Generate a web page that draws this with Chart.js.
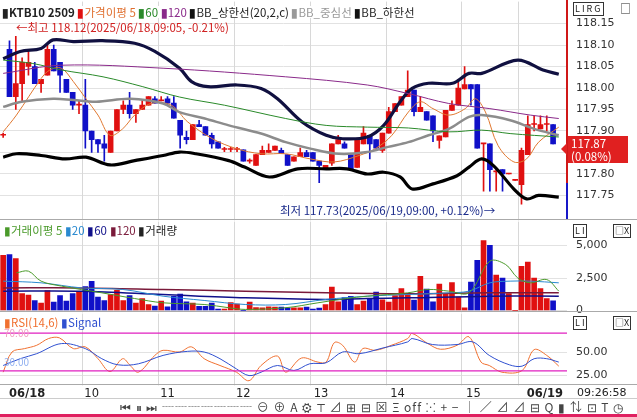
<!DOCTYPE html>
<html><head><meta charset="utf-8">
<script src="https://cdn.jsdelivr.net/npm/chart.js@4.4.0/dist/chart.umd.min.js"></script>
<style>
body{margin:0;width:637px;height:417px;background:#fff;position:relative;overflow:hidden;font-family:"Noto Sans CJK KR","Noto Sans",sans-serif;font-size:11px;color:#222}
canvas{position:absolute;left:0}
.t{position:absolute;white-space:nowrap;line-height:12px}
</style></head><body>
<canvas id="price" style="top:-14px" width="637" height="250"></canvas>
<canvas id="vol" style="top:206px" width="637" height="122"></canvas>
<canvas id="rsi" style="top:298px" width="637" height="103"></canvas>
<div id="overlay"></div>
<script>
// 30분봉 시가/고가/저가/종가
const opens  = [117.89,118.09,117.98,118.01,118.05,118.05,118.01,118.03,118.09,118.06,118.02,117.99,117.96,117.96,117.90,117.88,117.87,117.85,117.90,117.95,117.96,117.94,117.95,117.96,117.975,117.97,117.975,117.965,117.925,117.885,117.88,117.915,117.91,117.89,117.875,117.857,117.857,117.857,117.856,117.83,117.82,117.845,117.85,117.855,117.855,117.845,117.83,117.84,117.85,117.85,117.83,117.81,117.825,117.87,117.87,117.845,117.815,117.87,117.89,117.88,117.855,117.895,117.945,117.96,117.98,117.995,117.945,117.945,117.935,117.878,117.886,117.948,117.96,117.998,118.008,118.008,117.87,117.87,117.805,117.81,117.80,117.785,117.775,117.845,117.915,117.905,117.915,117.915];
const highs  = [117.895,118.11,118.12,118.07,118.09,118.06,118.02,118.10,118.10,118.06,118.02,117.99,117.97,118.02,117.90,117.88,117.89,117.90,117.95,117.97,117.99,117.95,117.97,117.98,117.98,117.98,117.98,117.98,117.925,117.90,117.915,117.925,117.91,117.895,117.875,117.862,117.862,117.862,117.856,117.835,117.845,117.865,117.87,117.865,117.86,117.845,117.84,117.86,117.855,117.85,117.83,117.82,117.87,117.89,117.875,117.845,117.88,117.91,117.89,117.88,117.895,117.955,117.964,117.98,118.04,117.995,117.98,117.945,117.935,117.889,117.948,117.97,118.02,118.05,118.008,118.008,117.87,117.87,117.815,117.81,117.80,117.785,117.86,117.935,117.935,117.935,117.935,117.915];
const lows   = [117.885,117.98,117.95,117.97,118.03,118.01,117.99,118.03,118.04,117.99,117.99,117.95,117.94,117.86,117.85,117.85,117.83,117.85,117.90,117.94,117.93,117.92,117.95,117.96,117.965,117.97,117.96,117.93,117.86,117.87,117.88,117.91,117.89,117.86,117.86,117.852,117.852,117.852,117.83,117.825,117.82,117.845,117.85,117.855,117.848,117.82,117.83,117.84,117.84,117.83,117.78,117.81,117.82,117.87,117.86,117.81,117.815,117.87,117.835,117.86,117.85,117.895,117.945,117.96,117.98,117.935,117.945,117.925,117.875,117.86,117.886,117.948,117.96,117.998,117.96,117.86,117.76,117.76,117.76,117.76,117.80,117.785,117.73,117.845,117.90,117.905,117.90,117.87];
const closes = [117.89,117.98,118.01,118.06,118.06,118.01,118.02,118.09,118.04,118.03,117.99,117.96,117.96,117.90,117.88,117.87,117.86,117.90,117.95,117.96,117.94,117.95,117.96,117.98,117.965,117.97,117.965,117.93,117.89,117.88,117.915,117.91,117.89,117.87,117.86,117.857,117.857,117.857,117.83,117.83,117.845,117.855,117.855,117.865,117.848,117.82,117.84,117.85,117.84,117.83,117.82,117.82,117.87,117.88,117.86,117.81,117.88,117.895,117.87,117.86,117.895,117.945,117.964,117.98,117.995,117.945,117.955,117.925,117.90,117.889,117.948,117.96,118.00,118.008,117.998,117.86,117.87,117.81,117.805,117.80,117.80,117.785,117.855,117.915,117.915,117.915,117.915,117.87];
const volumes = [4256,4300,4000,1300,1180,770,560,1540,640,1150,720,1300,1410,1850,2250,1030,770,1230,1560,770,1150,560,920,460,330,720,280,1080,1260,670,560,310,310,560,100,100,600,500,0,640,230,200,280,260,260,200,200,200,260,100,180,460,1800,670,1000,1080,460,720,920,1410,820,640,1150,1690,1230,800,2640,1640,670,2030,1280,2150,1030,200,2180,3870,5380,5030,2720,2490,1310,0,3410,3720,2490,1690,920,740];

// 보조지표 (봉 번호, 값)
const bbUpper = [[0,118.068],[2.7,118.085],[6,118.092],[7.9,118.112],[11.1,118.108],[15.7,118.11],[20.8,118.104],[24,118.085],[27.9,118.046],[29.8,118.015],[32.4,118.003],[37,118.007],[40.8,117.999],[43.4,117.975],[47.3,117.921],[51.1,117.89],[53.7,117.882],[57.6,117.886],[60.2,117.913],[62.8,117.968],[64.7,117.999],[67.3,118.011],[71.1,118.011],[73.7,118.034],[75.7,118.034],[81.4,118.065],[85.4,118.042],[87.9,118.032]];
const bbMid = [[0,117.956],[2.9,117.968],[7.9,117.975],[11.1,117.972],[14.7,117.968],[20.1,117.975],[25.3,117.964],[27.9,117.944],[31.9,117.929],[35.7,117.913],[40.8,117.894],[44.7,117.874],[48.6,117.859],[53.1,117.847],[57.6,117.851],[60.9,117.863],[64.1,117.874],[67.3,117.89],[70.5,117.905],[73.7,117.933],[75.7,117.937],[80.2,117.925],[84,117.905],[87.9,117.89]];
const bbLower = [[0,117.839],[2.1,117.847],[6,117.843],[9.8,117.835],[13.1,117.839],[16.9,117.821],[20.8,117.831],[25.3,117.843],[27.9,117.851],[30.5,117.847],[35.7,117.831],[38.2,117.816],[42.1,117.793],[46.6,117.812],[51.1,117.812],[54.4,117.812],[57.6,117.8],[60.2,117.804],[62.8,117.793],[64.7,117.765],[68,117.777],[71.8,117.796],[73.7,117.816],[75.7,117.835],[77.6,117.819],[80.8,117.765],[82.8,117.742],[84.7,117.75],[87.9,117.746]];
const ma5 = [[0,117.898],[2.1,117.937],[6,118.022],[7.4,118.042],[9.2,118.046],[11.1,118.015],[13.1,117.975],[15,117.937],[16.9,117.89],[18.9,117.905],[20.8,117.937],[23.4,117.964],[26.6,117.96],[29.2,117.921],[33.1,117.882],[36.9,117.859],[40.8,117.847],[44.7,117.847],[48.6,117.835],[52.4,117.828],[56.3,117.843],[58.9,117.859],[61.5,117.89],[64.1,117.944],[66,117.968],[68,117.952],[70.5,117.937],[73.1,117.952],[74.7,117.975],[76.3,117.944],[78.3,117.866],[80.8,117.828],[82.8,117.835],[84.7,117.874],[87.9,117.909]];
const ma60 = [[0,118.065],[4.7,118.057],[9.2,118.042],[15.8,118.026],[22.1,118.003],[27.9,117.979],[35,117.96],[44.7,117.929],[51.1,117.913],[57.6,117.909],[64.1,117.907],[70.5,117.898],[75.7,117.902],[80.2,117.894],[87.9,117.886]];
const ma120 = [[0,118.034],[9.2,118.053],[25.3,118.046],[44.7,118.026],[57.6,118.007],[64.1,117.987],[70.5,117.964],[77,117.952],[83.4,117.937],[87.9,117.929]];

const volMa5 = [[2.1,2900],[4,3030],[6,2260],[9.2,1880],[15.6,1360],[20.8,920],[25.3,590],[31.8,460],[35.7,210],[38.3,80],[44.7,210],[49.8,590],[54.3,920],[57.6,1100],[64,1360],[67.3,1620],[70.5,1490],[73.7,1360],[77,3800],[79.5,3540],[81.4,2510],[83.4,2130],[86,2380],[87.9,1490]];
const volMa20 = [[0,2260],[6,2130],[12.4,1740],[18.9,1620],[25.3,1100],[31.8,770],[38.3,460],[44.7,460],[51.1,850],[57.6,1100],[64,1230],[70.5,1360],[73.7,1490],[77,2130],[80.2,2260],[83.4,2260],[87.9,2130]];
const volMa60 = [[0,1490],[12.4,1490],[25.3,1230],[38.3,970],[51.1,850],[57.6,920],[64,970],[77,1100],[87.9,1100]];
const volMa120 = [[0,1740],[12.4,1740],[25.3,1620],[38.3,1490],[51.1,1360],[64,1280],[77,1360],[87.9,1360]];

const rsiLine = [[0,28.6],[1.4,50],[3.4,53.6],[5.3,57.1],[7.2,64.3],[8.9,65],[11.1,53.6],[13,55.4],[15,42.9],[16.9,29.3],[18.9,42.9],[20.1,35.7],[21.4,28.6],[24,46.4],[25.3,51.8],[27.9,50],[29.8,55.4],[31.8,42.9],[34.3,35.7],[36.9,28.6],[38.9,19.6],[40.8,35.7],[43.4,45.7],[44.7,28.6],[47.2,43.6],[49.8,39.3],[51.1,39.3],[52.4,60],[53.7,57.1],[55.6,39.3],[56.9,53.6],[58.9,51.8],[61.4,57.1],[64,64.3],[64.7,69.6],[67.2,58.9],[69.2,52.9],[71.8,57.1],[73.7,66.1],[75.6,39.3],[76.9,35.7],[78.9,28.6],[82.1,30.4],[84,52.5],[86,46.4],[87.9,35]];
const rsiSignal = [[0,35.7],[2.7,42.9],[5.3,48.2],[9.2,58.9],[13,53.6],[15.6,42.9],[18.2,36.4],[21.4,37.5],[25.3,46.4],[29.2,50.7],[31.8,50],[34.3,42.9],[36.9,32.1],[38.9,25],[40.8,28.6],[43.4,35.7],[46,30.4],[48.5,37.5],[51.1,38.6],[53.7,50],[56.3,48.2],[60.1,54.3],[64,60.7],[64.7,64.3],[67.9,57.9],[71.8,57.9],[74.3,60.7],[76.9,46.4],[80.1,36.4],[82.1,35],[84,42.9],[86,42.9],[87.9,39.3]];

const priceTicks = [117.75,117.80,117.85,117.90,117.95,118.00,118.05,118.10,118.15];
const volTicks = [0,2500,5000];
const rsiTicks = [25,50];
const dayStarts = [13,25,37,49,61,73,82];
const dayLabels = [['06/18',3.3,true],['10',14],['11',26],['12',38],['13',50.3],['14',62.4],['15',74.4],['06/19',85.2,true]];

const UP = '#e01010', DOWN = '#1010c8';
const X_MIN = -0.5, X_MAX = 89.2, AXIS_W = 70;
const pts = a => a.map(p => ({x: p[0], y: p[1]}));
const candleColor = closes.map((c, i) => c < opens[i] ? DOWN : UP);

const xScale = {type: 'linear', min: X_MIN, max: X_MAX, display: false, offset: false};
function yScale(min, max, ticks, fmt) {
  return {position: 'right', min: min, max: max,
    afterBuildTicks: s => { s.ticks = ticks.map(v => ({value: v})); },
    afterFit: s => { s.width = AXIS_W; },
    border: {display: false},
    grid: {color: '#e2e2e2', drawTicks: false},
    ticks: {padding: 9, color: '#333', font: {family: 'DejaVu Sans', size: 11}, callback: fmt}};
}
// 날짜 구분 세로선
const dayGrid = {id: 'dayGrid', beforeDatasetsDraw(chart) {
  const c = chart.ctx, a = chart.chartArea, xs = chart.scales.x;
  c.save(); c.strokeStyle = '#d8d8d8'; c.lineWidth = 1;
  dayStarts.forEach(v => {
    const px = Math.round(xs.getPixelForValue(v - 0.5)) + 0.5;
    c.beginPath(); c.moveTo(px, a.top); c.lineTo(px, a.bottom); c.stroke();
  });
  c.restore();
}};
function line(data, color, width) {
  return {type: 'line', data: pts(data), borderColor: color, borderWidth: width,
    pointRadius: 0, tension: 0.35, order: 0};
}
const baseOpts = {animation: false, responsive: false, events: [],
  layout: {padding: 0, autoPadding: false},
  plugins: {legend: {display: false}, tooltip: {enabled: false}}};

new Chart(document.getElementById('price'), {
  type: 'bar',
  data: {datasets: [
    line(ma120, '#8a2a8a', 1), line(ma60, '#2a8a2a', 1),
    line(bbMid, '#8c8c8c', 2.5), line(bbUpper, '#101040', 3.2), line(bbLower, '#000', 3.2),
    line(ma5, '#e07830', 1),
    {data: highs.map((h, i) => ({x: i, y: [lows[i], h]})), backgroundColor: candleColor,
      barThickness: 1, grouped: false, order: 2},
    {data: opens.map((o, i) => ({x: i, y: [o, closes[i]]})), backgroundColor: candleColor,
      barThickness: 5, minBarLength: 1, grouped: false, order: 1}
  ]},
  options: Object.assign({}, baseOpts, {scales: {x: xScale,
    y: yScale(117.692, 118.201, priceTicks, v => v.toFixed(2))}}),
  plugins: [dayGrid]
});

new Chart(document.getElementById('vol'), {
  type: 'bar',
  data: {datasets: [
    line(volMa5, '#4a9a2a', 1), line(volMa20, '#2a8ad0', 1),
    line(volMa60, '#10108a', 1.5), line(volMa120, '#7a1a3a', 1.5),
    {data: volumes.map((v, i) => ({x: i, y: v})), backgroundColor: candleColor,
      barThickness: 5, grouped: false, order: 1}
  ]},
  options: Object.assign({}, baseOpts, {scales: {x: xScale,
    y: yScale(-150, 6850, volTicks, v => v.toLocaleString('en-US'))}}),
  plugins: [dayGrid]
});

new Chart(document.getElementById('rsi'), {
  type: 'line',
  data: {datasets: [
    line([[X_MIN,70],[X_MAX,70]], '#e020c0', 1.2), line([[X_MIN,30],[X_MAX,30]], '#e020c0', 1.2),
    line(rsiSignal, '#3050d0', 1), line(rsiLine, '#f07030', 1)
  ]},
  options: Object.assign({}, baseOpts, {scales: {x: xScale,
    y: yScale(14.6, 90.7, rsiTicks, v => v.toFixed(2))}}),
  plugins: [dayGrid]
});

// 텍스트 / 범례 / 장식
const ov = document.getElementById('overlay');
function txt(x, y, html, style) {
  const d = document.createElement('div');
  d.className = 't'; d.style.left = x + 'px'; d.style.top = y + 'px';
  d.innerHTML = html; if (style) d.style.cssText += style; ov.appendChild(d);
}
function box(x, y, w, h, bg) {
  const d = document.createElement('div');
  d.style.cssText = `position:absolute;left:${x}px;top:${y}px;width:${w}px;height:${h}px;background:${bg}`;
  ov.appendChild(d);
}
const mk = c => `<b style="color:${c}">▮</b>`;
txt(2, 6, `${mk('#222')}<b>KTB10 2509</b> ${mk(UP)}<span style="color:#e07030">가격이평 5</span> ${mk('#2a8a2a')}<span style="color:#2a8a2a">60</span> ${mk('#8a2a8a')}<span style="color:#8a2a8a">120</span> ${mk('#111')}BB_상한선(20,2,c) ${mk('#999')}<span style="color:#999">BB_중심선</span> ${mk('#111')}BB_하한선`, 'font-size:11.5px;background:#fff');
txt(16, 21, '←최고 118.12(2025/06/18,09:05, -0.21%)', 'color:#d02020;font-size:11.5px');
txt(280, 204, '최저 117.73(2025/06/19,09:00, +0.12%)→', 'color:#1a2a8a;font-size:11.5px');
txt(4, 224, `<span style="color:#4a9a2a">▮거래이평 5</span> <span style="color:#2a8ad0">▮20</span> <span style="color:#10108a">▮60</span> <span style="color:#7a1a3a">▮120</span> ▮거래량`, 'font-size:11.5px');
txt(4, 316, `<span style="color:#f07030">▮RSI(14,6)</span> <span style="color:#3050d0">▮Signal</span>`, 'font-size:11.5px');
txt(4, 327, '70.00', 'color:#f0a0c0;font-size:10px');
txt(4, 356, '30.00', 'color:#90b0f0;font-size:10px');
box(566, 0, 2, 183, '#d01818'); box(566, 183, 2, 36, '#1818c8');
box(0, 219, 637, 1, '#aaa'); box(0, 311, 637, 1, '#aaa'); box(0, 384, 637, 1, '#aaa');
box(568, 136, 60, 27, '#e02020');
txt(571, 137, '117.87<br>(0.08%)', 'color:#fff;font-size:11.5px;line-height:13px');
const tri = document.createElement('div');
tri.style.cssText = 'position:absolute;left:561px;top:143px;width:0;height:0;border-top:6px solid transparent;border-bottom:6px solid transparent;border-right:6px solid #e02020';
ov.appendChild(tri);
txt(573, 2, 'LIRG', 'font-size:9px;border:1px solid #333;letter-spacing:2px;padding:0 1px');
txt(620, 2, '□', 'font-size:11px');
txt(573, 224, 'L I', 'font-size:9px;border:1px solid #333;padding:0 1px');
txt(613, 224, '□X', 'font-size:9px;border:1px solid #333;padding:0 1px');
txt(573, 316, 'L I', 'font-size:9px;border:1px solid #333;padding:0 1px');
txt(613, 316, '□X', 'font-size:9px;border:1px solid #333;padding:0 1px');
dayLabels.forEach(d => {
  const px = (d[1] - X_MIN) / (X_MAX - X_MIN) * 567;
  txt(px - 15, 387, d[0], 'font-family:DejaVu Sans;font-size:11.5px;width:30px;text-align:center;' + (d[2] ? 'font-weight:bold' : ''));
});
txt(577, 387, '09:26:58', 'font-family:DejaVu Sans;font-size:11px');
box(0, 398, 637, 1, '#ccc');
txt(120, 401, '⏮ ⏸ ⏭ ┈┈┈┈┈┈┈ ⊖ ⊕ A ⚙ ⊤ ⊿ ⊞ ⊟ ⊠ Ξ off ⁙ + − │ ∕ ⊿ ⊿ ⊟ Q ▮ ⇅ ⊡ T ◷', 'font-size:12px;color:#444;letter-spacing:1px');
box(0, 414, 637, 3, '#e02060');
</script>
</body></html>
